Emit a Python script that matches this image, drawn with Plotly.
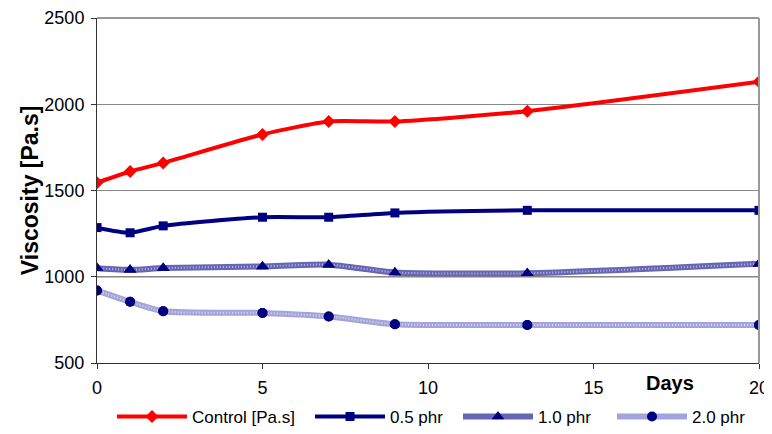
import plotly.graph_objects as go

days = [0, 1, 2, 5, 7, 9, 13, 20]
control = [1545, 1610, 1660, 1825, 1900, 1900, 1960, 2130]
phr_05 = [1285, 1255, 1295, 1345, 1345, 1370, 1385, 1385]
phr_10 = [1050, 1040, 1050, 1060, 1070, 1025, 1020, 1075]
phr_20 = [920, 855, 800, 790, 770, 725, 720, 720]

names = ["Control [Pa.s]", "0.5 phr", "1.0 phr", "2.0 phr"]
x_ticks = [0, 5, 10, 15, 20]
y_ticks = [500, 1000, 1500, 2000, 2500]

FONT = "Liberation Sans, Arial, sans-serif"
NAVY = "#000080"
SM = 0.6

fig = go.Figure()
fig.add_trace(go.Scatter(x=days, y=control, name=names[0], mode="lines+markers", legend="legend",
                         line=dict(color="#FF0000", width=4, shape="spline", smoothing=SM),
                         marker=dict(symbol="diamond", size=10, color="#FF0000")))
fig.add_trace(go.Scatter(x=days, y=phr_05, name=names[1], mode="lines+markers", legend="legend2",
                         line=dict(color=NAVY, width=4, shape="spline", smoothing=SM),
                         marker=dict(symbol="square", size=9, color=NAVY)))
fig.add_trace(go.Scatter(x=days, y=phr_10, name=names[2], mode="lines+markers", legend="legend3",
                         line=dict(color="#6666B4", width=6, shape="spline", smoothing=SM),
                         marker=dict(symbol="triangle-up", size=11, color=NAVY)))
fig.add_trace(go.Scatter(x=days, y=phr_10, mode="lines", showlegend=False, hoverinfo="skip",
                         line=dict(color="rgba(255,255,255,0.55)", width=2, dash="1px,2px",
                                   shape="spline", smoothing=SM)))
fig.add_trace(go.Scatter(x=days, y=phr_20, name=names[3], mode="lines+markers", legend="legend4",
                         line=dict(color="#A4A4DA", width=6, shape="spline", smoothing=SM),
                         marker=dict(symbol="circle", size=10, color=NAVY)))
fig.add_trace(go.Scatter(x=days, y=phr_20, mode="lines", showlegend=False, hoverinfo="skip",
                         line=dict(color="rgba(255,255,255,0.6)", width=2, dash="1px,2px",
                                   shape="spline", smoothing=SM)))
# redraw markers on top of texture overlays
fig.add_trace(go.Scatter(x=days, y=phr_10, mode="markers", showlegend=False, hoverinfo="skip",
                         marker=dict(symbol="triangle-up", size=11, color=NAVY)))
fig.add_trace(go.Scatter(x=days, y=phr_20, mode="markers", showlegend=False, hoverinfo="skip",
                         marker=dict(symbol="circle", size=10, color=NAVY)))

leg_common = dict(orientation="h", xref="container", yref="container", y=0.040,
                  yanchor="middle", xanchor="left", font=dict(size=17, family=FONT),
                  itemwidth=70, bgcolor="rgba(0,0,0,0)")
legend_x = [0.1361, 0.3953, 0.5890, 0.7906]

fig.update_layout(
    width=764, height=426,
    margin=dict(l=89, r=13, t=10, b=71, autoexpand=False),
    paper_bgcolor="white", plot_bgcolor="white",
    font=dict(family=FONT, size=16, color="black"),
    showlegend=True,
    legend=dict(x=legend_x[0], **leg_common),
    legend2=dict(x=legend_x[1], **leg_common),
    legend3=dict(x=legend_x[2], **leg_common),
    legend4=dict(x=legend_x[3], **leg_common),
    xaxis=dict(range=[0, 20], tickvals=x_ticks, showgrid=False, zeroline=False,
               showline=True, linecolor="#333", linewidth=1, mirror=False,
               ticks="outside", ticklen=5, tickcolor="#333",
               ticklabelstandoff=3, tickfont=dict(size=18)),
    yaxis=dict(range=[500, 2500], tickvals=y_ticks, showgrid=True, gridcolor="#888",
               gridwidth=1, zeroline=False, showline=True, linecolor="#333", linewidth=1,
               ticks="outside", ticklen=5, tickcolor="#333", ticklabelstandoff=3,
               tickfont=dict(size=18)),
    shapes=[
        dict(type="line", xref="paper", yref="paper", x0=0, x1=1, y0=1, y1=1,
             line=dict(color="#999", width=2)),
        dict(type="line", xref="paper", yref="paper", x0=1, x1=1, y0=0, y1=1,
             line=dict(color="#999", width=2)),
        dict(type="line", xref="paper", yref="y", x0=0, x1=1, y0=1000, y1=1000,
             line=dict(color="black", width=1.2), layer="below"),
    ],
    annotations=[
        dict(text="<b>Days</b>", xref="paper", yref="paper", x=0.8656, y=-0.058,
             xanchor="center", yanchor="middle", showarrow=False,
             font=dict(size=20, family=FONT)),
        dict(text="<b>Viscosity [Pa.s]</b>", xref="paper", yref="paper", x=-0.1012, y=0.501,
             xanchor="center", yanchor="middle", textangle=-90, showarrow=False,
             font=dict(size=23, family=FONT)),
    ],
)

fig.write_html("out.html")
